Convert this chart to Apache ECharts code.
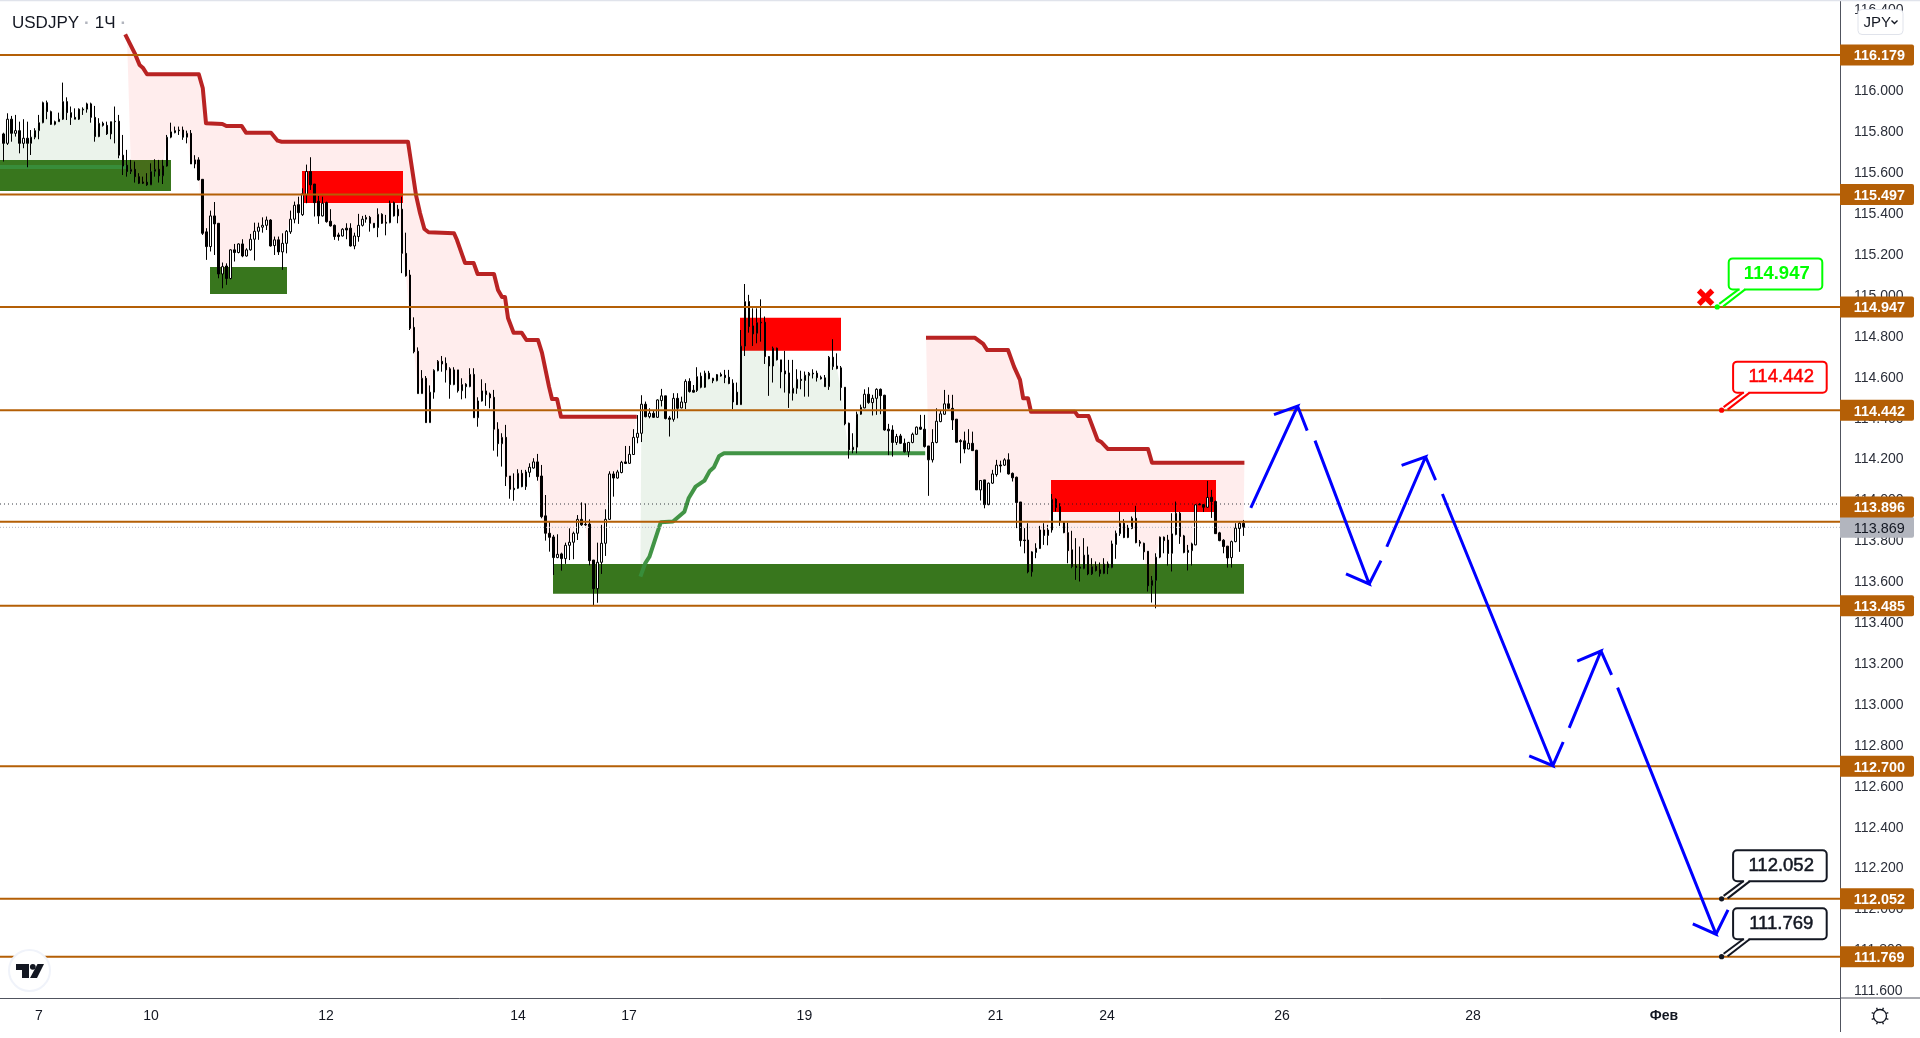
<!DOCTYPE html>
<html><head><meta charset="utf-8"><style>html,body{margin:0;padding:0;background:#fff}#c{width:1920px;height:1038px}</style>
<script src="https://cdn.jsdelivr.net/npm/echarts@6/dist/echarts.min.js"></script></head>
<body><div id="c"></div>
<script>
const opens=[115.793,115.747,115.865,115.796,115.809,115.747,115.772,115.747,115.777,115.809,
115.848,115.946,115.902,115.840,115.853,115.865,115.951,115.897,115.874,115.865,
115.910,115.914,115.940,115.874,115.780,115.845,115.835,115.793,115.855,115.855,
115.689,115.640,115.609,115.620,115.584,115.558,115.557,115.544,115.610,115.620,
115.588,115.636,115.777,115.799,115.812,115.812,115.777,115.796,115.646,115.666,
115.571,115.314,115.242,115.392,115.356,115.108,115.147,115.086,115.226,115.213,
115.255,115.196,115.226,115.278,115.317,115.337,115.346,115.372,115.247,115.275,
115.216,115.258,115.314,115.376,115.447,115.398,115.495,115.609,115.548,115.464,
115.392,115.457,115.366,115.346,115.299,115.294,115.332,115.332,115.245,115.291,
115.346,115.376,115.385,115.356,115.335,115.400,115.361,115.359,115.457,115.392,
115.425,115.209,115.103,114.847,114.730,114.523,114.598,114.381,114.530,114.635,
114.681,114.671,114.644,114.567,114.639,114.537,114.569,114.557,114.617,114.405,
114.487,114.536,114.521,114.505,114.349,114.278,114.309,114.120,114.060,114.060,
114.133,114.068,114.138,114.159,114.189,114.120,113.925,113.840,113.822,113.721,
113.739,113.716,113.781,113.796,113.840,113.908,113.884,113.885,113.709,113.569,
113.698,113.791,113.908,114.130,114.110,114.137,114.189,114.182,114.225,114.309,
114.329,114.471,114.410,114.427,114.407,114.489,114.512,114.404,114.397,114.500,
114.453,114.479,114.583,114.539,114.538,114.608,114.554,114.623,114.598,114.586,
114.617,114.613,114.603,114.574,114.530,114.469,114.755,114.973,114.854,114.818,
114.872,114.872,114.704,114.658,114.745,114.688,114.634,114.624,114.525,114.549,
114.593,114.587,114.611,114.623,114.623,114.603,114.600,114.557,114.701,114.658,
114.649,114.554,114.378,114.248,114.261,114.422,114.453,114.520,114.479,114.500,
114.544,114.515,114.349,114.345,114.284,114.316,114.280,114.238,114.284,114.324,
114.359,114.349,114.267,114.199,114.284,114.386,114.422,114.473,114.451,114.398,
114.293,114.292,114.252,114.280,114.246,114.052,114.101,113.980,114.085,114.127,
114.174,114.173,114.199,114.133,114.114,113.993,113.807,113.807,113.651,113.746,
113.765,113.856,113.829,113.856,114.006,113.970,113.892,113.843,113.759,113.680,
113.675,113.667,113.734,113.641,113.679,113.661,113.643,113.690,113.672,113.785,
113.838,113.889,113.819,113.863,113.913,113.798,113.791,113.752,113.584,113.609,
113.723,113.821,113.807,113.742,113.834,113.938,113.827,113.746,113.755,113.783,
113.982,113.980,113.967,114.016,113.995,113.842,113.806,113.777,113.721,113.799,
113.863,113.889];
const closes=[115.747,115.865,115.796,115.809,115.747,115.772,115.747,115.777,115.809,115.848,
115.946,115.902,115.840,115.853,115.865,115.951,115.897,115.874,115.865,115.914,
115.914,115.940,115.874,115.780,115.845,115.835,115.793,115.853,115.853,115.689,
115.636,115.609,115.620,115.584,115.552,115.552,115.544,115.609,115.620,115.588,
115.636,115.777,115.803,115.809,115.809,115.777,115.796,115.646,115.666,115.568,
115.307,115.242,115.392,115.353,115.108,115.144,115.086,115.226,115.213,115.255,
115.196,115.226,115.278,115.317,115.337,115.346,115.372,115.245,115.275,115.216,
115.258,115.317,115.376,115.444,115.408,115.500,115.609,115.544,115.457,115.392,
115.454,115.364,115.343,115.291,115.291,115.327,115.323,115.245,115.294,115.346,
115.376,115.385,115.356,115.335,115.400,115.356,115.356,115.454,115.392,115.425,
115.209,115.099,114.842,114.728,114.523,114.598,114.381,114.530,114.637,114.681,
114.668,114.639,114.567,114.639,114.537,114.567,114.557,114.617,114.405,114.487,
114.536,114.518,114.502,114.349,114.278,114.309,114.117,114.055,114.053,114.133,
114.068,114.140,114.163,114.189,114.117,113.921,113.840,113.820,113.721,113.737,
113.716,113.781,113.796,113.840,113.908,113.881,113.881,113.706,113.569,113.698,
113.791,113.908,114.130,114.110,114.140,114.187,114.181,114.226,114.309,114.329,
114.471,114.410,114.427,114.407,114.492,114.512,114.401,114.397,114.500,114.451,
114.482,114.583,114.533,114.530,114.606,114.554,114.623,114.596,114.586,114.616,
114.609,114.601,114.572,114.482,114.469,114.755,114.973,114.851,114.815,114.870,
114.869,114.704,114.658,114.745,114.688,114.629,114.619,114.525,114.549,114.593,
114.587,114.613,114.623,114.619,114.601,114.595,114.557,114.701,114.655,114.645,
114.553,114.375,114.248,114.261,114.422,114.456,114.520,114.479,114.500,114.544,
114.513,114.345,114.341,114.284,114.313,114.280,114.238,114.284,114.324,114.359,
114.349,114.264,114.199,114.284,114.388,114.424,114.473,114.451,114.394,114.285,
114.288,114.252,114.280,114.244,114.052,114.098,113.980,114.085,114.130,114.173,
114.169,114.199,114.130,114.111,113.990,113.804,113.804,113.651,113.749,113.767,
113.856,113.829,113.856,114.006,113.966,113.897,113.843,113.755,113.677,113.672,
113.669,113.733,113.641,113.677,113.658,113.643,113.689,113.672,113.788,113.840,
113.889,113.819,113.866,113.913,113.794,113.791,113.749,113.583,113.610,113.723,
113.821,113.804,113.741,113.837,113.938,113.824,113.746,113.757,113.788,113.979,
113.979,113.967,114.015,113.995,113.838,113.804,113.775,113.719,113.799,113.865,
113.889,113.869];
const highs=[115.799,115.894,115.881,115.886,115.853,115.865,115.853,115.812,115.821,115.886,
115.951,115.956,115.907,115.858,115.897,116.044,115.972,115.927,115.918,115.918,
115.923,115.946,115.946,115.930,115.870,115.853,115.853,115.853,115.927,115.886,
115.788,115.715,115.666,115.658,115.601,115.584,115.601,115.649,115.669,115.666,
115.666,115.788,115.848,115.829,115.829,115.829,115.809,115.812,115.689,115.679,
115.571,115.332,115.418,115.460,115.356,115.164,115.160,115.229,115.255,115.258,
115.278,115.234,115.304,115.359,115.359,115.385,115.389,115.376,115.291,115.291,
115.307,115.323,115.418,115.462,115.486,115.527,115.643,115.679,115.548,115.490,
115.486,115.462,115.425,115.350,115.310,115.332,115.356,115.356,115.310,115.402,
115.392,115.397,115.392,115.356,115.429,115.405,115.397,115.467,115.462,115.446,
115.486,115.310,115.128,114.896,114.749,114.638,114.609,114.563,114.642,114.687,
114.707,114.700,114.652,114.652,114.639,114.598,114.574,114.647,114.647,114.505,
114.593,114.574,114.528,114.541,114.383,114.329,114.370,114.120,114.133,114.153,
114.150,114.150,114.182,114.207,114.228,114.174,114.027,113.897,113.832,113.835,
113.745,113.794,113.864,113.848,113.929,113.991,113.986,113.908,113.709,113.794,
113.881,113.957,114.143,114.143,114.150,114.194,114.267,114.267,114.349,114.418,
114.515,114.484,114.451,114.440,114.495,114.546,114.512,114.414,114.525,114.525,
114.508,114.593,114.598,114.565,114.652,114.626,114.635,114.634,114.600,114.619,
114.626,114.639,114.639,114.593,114.577,114.834,115.059,115.006,114.940,114.940,
114.984,114.900,114.707,114.753,114.748,114.688,114.732,114.688,114.688,114.642,
114.635,114.631,114.629,114.642,114.635,114.611,114.614,114.707,114.789,114.720,
114.658,114.554,114.381,114.329,114.435,114.469,114.544,114.554,114.517,114.549,
114.548,114.517,114.375,114.368,114.326,114.326,114.303,114.287,114.332,114.362,
114.419,114.419,114.267,114.349,114.451,114.440,114.541,114.517,114.517,114.398,
114.300,114.337,114.349,114.337,114.248,114.098,114.101,114.088,114.150,114.199,
114.195,114.207,114.231,114.137,114.117,113.993,113.865,113.889,113.752,113.791,
113.876,113.889,113.881,114.032,114.011,113.987,113.897,113.892,113.852,113.816,
113.775,113.816,113.775,113.718,113.702,113.697,113.718,113.702,113.804,113.853,
113.946,113.909,113.881,113.922,113.974,113.807,113.794,113.752,113.631,113.742,
113.824,113.824,113.832,113.938,113.995,113.944,113.832,113.783,113.794,113.982,
113.987,113.983,114.096,114.052,114.000,113.847,113.811,113.778,113.804,113.889,
113.897,113.905];
const lows=[115.658,115.739,115.755,115.780,115.698,115.723,115.630,115.690,115.767,115.767,
115.845,115.865,115.837,115.835,115.853,115.861,115.861,115.837,115.865,115.861,
115.886,115.897,115.848,115.755,115.777,115.829,115.788,115.767,115.747,115.674,
115.592,115.584,115.597,115.555,115.548,115.548,115.539,115.544,115.584,115.555,
115.548,115.633,115.772,115.796,115.788,115.764,115.747,115.646,115.625,115.565,
115.299,115.177,115.218,115.201,115.087,115.038,115.055,115.082,115.169,115.209,
115.190,115.193,115.222,115.174,115.275,115.310,115.323,115.242,115.201,115.201,
115.128,115.209,115.304,115.356,115.353,115.392,115.454,115.519,115.389,115.353,
115.389,115.359,115.340,115.275,115.271,115.291,115.278,115.242,115.229,115.266,
115.340,115.359,115.315,115.332,115.288,115.353,115.297,115.356,115.389,115.356,
115.112,115.095,114.834,114.720,114.523,114.523,114.381,114.381,114.498,114.632,
114.630,114.577,114.498,114.564,114.528,114.495,114.500,114.554,114.405,114.361,
114.484,114.463,114.451,114.244,114.215,114.166,114.071,114.009,113.999,114.057,
114.065,114.052,114.114,114.156,114.097,113.913,113.804,113.750,113.636,113.718,
113.657,113.690,113.709,113.713,113.807,113.876,113.876,113.683,113.489,113.500,
113.641,113.729,113.905,114.019,114.107,114.133,114.179,114.179,114.223,114.280,
114.286,114.407,114.402,114.404,114.404,114.460,114.397,114.313,114.386,114.402,
114.451,114.447,114.528,114.528,114.531,114.549,114.551,114.593,114.574,114.583,
114.606,114.574,114.569,114.447,114.468,114.468,114.707,114.821,114.756,114.769,
114.777,114.668,114.512,114.577,114.685,114.549,114.528,114.453,114.489,114.522,
114.544,114.508,114.508,114.597,114.582,114.592,114.557,114.541,114.639,114.642,
114.489,114.368,114.205,114.231,114.231,114.419,114.451,114.473,114.416,114.419,
114.422,114.342,114.222,114.215,114.272,114.277,114.235,114.212,114.280,114.321,
114.345,114.259,114.023,114.186,114.280,114.383,114.420,114.446,114.345,114.283,
114.182,114.231,114.251,114.244,114.052,114.000,113.962,113.977,114.081,114.117,
114.137,114.169,114.127,114.093,113.865,113.775,113.742,113.644,113.628,113.718,
113.763,113.783,113.781,113.843,113.946,113.876,113.840,113.693,113.669,113.612,
113.604,113.664,113.635,113.636,113.653,113.628,113.640,113.640,113.669,113.715,
113.827,113.816,113.816,113.860,113.791,113.775,113.710,113.555,113.501,113.473,
113.718,113.742,113.682,113.653,113.830,113.788,113.742,113.658,113.682,113.781,
113.979,113.944,113.964,113.915,113.837,113.801,113.742,113.672,113.672,113.796,
113.749,113.827];

const redStop1=[[31.3,116.280],[33.7,116.187],[34.9,116.130],[35.7,116.117],[36.75,116.085],[49.7,116.085],[50.7,116.016],[51.5,115.845],[55.6,115.842],[56.6,115.832],[60.4,115.832],[61.5,115.799],[67.75,115.799],[69.4,115.760],[70.4,115.755],[102,115.755],[102.5,115.749],[104,115.494],[105,115.406],[106.1,115.328],[107.15,115.312],[113.5,115.307],[114.25,115.274],[116.25,115.162],[118.4,115.162],[119.4,115.108],[123.5,115.108],[124.5,115.030],[125.5,114.995],[126.25,114.995],[127,114.893],[128.4,114.821],[130.4,114.821],[131.6,114.785],[134.5,114.785],[135.5,114.722],[137.25,114.557],[138,114.497],[139.25,114.497],[140.25,114.410],[159.2,114.410]];
const redStop2=[[231.5,114.796],[243.75,114.796],[245.8,114.766],[246.8,114.736],[252,114.736],[253.5,114.655],[255,114.590],[255.8,114.500],[257,114.500],[257.75,114.434],[268.75,114.434],[269.5,114.413],[272.15,114.413],[274.4,114.296],[275.4,114.285],[277,114.252],[287,114.252],[288,114.185],[311.1,114.185]];
const greenStop1=[[0,115.631],[31.5,115.631]];
const greenStop2=[[160.1,113.628],[161.3,113.693],[162.35,113.725],[165.2,113.894],[168.25,113.897],[171.1,113.945],[172.15,114.011],[173.9,114.068],[176.1,114.097],[177.45,114.145],[178.5,114.163],[179.8,114.218],[181,114.231],[231.3,114.231]];

const greenZones=[[0,42.75,115.665,115.514],[52.5,71.75,115.142,115.010],[138.25,311,113.690,113.544]];
const redZones=[[75.5,100.75,115.612,115.455],[185,210.25,114.894,114.733],[262.75,304,114.100,113.944]];

const levelValues=[116.179,115.497,114.947,114.442,113.896,113.485,112.700,112.052,111.769];
const levelTagAt=[116.179,115.497,114.947,114.442,113.968,113.485,112.700,112.052,111.769];
const lastPrice=113.869;
const prePrice=113.983;

const arrowStart=[[312.7,113.964],[328.75,114.293],[346.7,113.774],[360.6,114.032],[392.3,112.888],[404.4,113.085]];
const arrowTip=[[324.4,114.462],[342.3,113.592],[356.4,114.214],[388.2,112.703],[400.25,113.264],[429,111.879]];
const arrowWingA=[[318.5,114.420],[336.5,113.641],[350.4,114.172],[382.3,112.751],[394.3,113.215],[423.2,111.929]];
const arrowWingB=[[326.8,114.342],[345.25,113.706],[358.9,114.100],[390.8,112.819],[402.9,113.147],[432,111.998]];

const calloutBars=[429.3,430.4,430.4,430.4];
const calloutPrices=[114.947,114.442,112.052,111.769];
const calloutColors=['#00FF00','#FF0000','#131722','#131722'];
const stopMark=[426.4,114.994];

const yTicks=[111.6,111.8,112,112.2,112.4,112.6,112.8,113,113.2,113.4,113.6,113.8,114,114.2,114.4,114.6,114.8,115,115.2,115.4,115.6,115.8,116,116.2,116.4];
const xTickLabels=['7','10','12','14','17','19','21','24','26','28','Фев'];
const xTickBars=[9.75,37.75,81.5,129.5,157.25,201.1,248.9,276.75,320.5,368.25,416];

const FONT='"Liberation Sans",Arial,sans-serif';
const ORANGE='#B45F06', AXIS='#50535E', TXT='#131722';
const barX=k=>0.833+0.997*k;
const candles=opens.map((o,k)=>[barX(k),o,closes[k],lows[k],highs[k]]);
const closePts=closes.map((c,k)=>[barX(k),c]);
const between=(a,b)=>closePts.filter(p=>p[0]>=a&&p[0]<=b).reverse();
const PINK='rgba(255,0,0,0.07)', PALE='rgba(56,142,60,0.1)';
const fills=[
 {c:PALE,p:greenStop1.concat(between(0,31.5),[[0,closes[0]]])},
 {c:PINK,p:[[31.75,116.26]].concat(redStop1.slice(1),between(31.75,159.2))},
 {c:PALE,p:greenStop2.concat(between(160.25,231.3))},
 {c:PINK,p:redStop2.concat(between(231.5,311.1))}
];
const zones=greenZones.map(z=>z.concat('#38761D')).concat(redZones.map(z=>z.concat('#FF0000')));
const line=(name,data,style,z)=>({name,type:'line',data,symbol:'none',showSymbol:false,silent:true,z,lineStyle:style,animation:false,clip:false});

const series=[];
series.push({type:'custom',name:'zones',z:1,silent:true,data:zones.map(z=>[z[0],z[2]]),renderItem(p,api){
  const z=zones[p.dataIndex],a=api.coord([z[0],z[2]]),b=api.coord([z[1],z[3]]);
  return {type:'rect',shape:{x:a[0],y:a[1],width:b[0]-a[0],height:b[1]-a[1]},style:{fill:z[4]}};
}});
series.push({type:'custom',name:'fills',z:2,silent:true,data:fills.map(f=>f.p[0]),renderItem(p,api){
  const f=fills[p.dataIndex];
  return {type:'polygon',shape:{points:f.p.map(q=>api.coord(q))},style:{fill:f.c}};
}});
series.push(line('redStop1',redStop1,{color:'#B71C1C',width:4,join:'round',opacity:.97},3));
series.push(line('redStop2',redStop2,{color:'#B71C1C',width:4,join:'round',opacity:.97},3));
series.push(line('greenStop1',greenStop1,{color:'#388E3C',width:4,opacity:.95},2.5));
series.push(line('greenStop2',greenStop2,{color:'#388E3C',width:4,join:'round',opacity:.95},3));
series.push({type:'candlestick',name:'USDJPY',z:3.5,silent:true,barWidth:2,data:candles,itemStyle:{color:'#FFFFFF',color0:'#000000',borderColor:'#000000',borderColor0:'#000000',borderWidth:1}});
series.push(line('pre',[[0,prePrice],[460,prePrice]],{color:'#131722',width:1,type:[1,3],opacity:.85},3.8));
series.push(line('last',[[0,lastPrice],[460,lastPrice]],{color:'#B2B5BE',width:1,type:[1,2]},3.8));
levelValues.forEach((v,i)=>series.push(line('level'+i,[[0,v],[460,v]],{color:ORANGE,width:2},4)));
arrowTip.forEach((t,i)=>series.push(line('arrow'+i,[arrowStart[i],t,arrowWingA[i],t,arrowWingB[i]],{color:'#0000FF',width:3,join:'miter'},5)));

series.push({type:'custom',name:'stop',z:6,silent:true,data:[stopMark],renderItem(p,api){
  const c=api.coord(stopMark),r=6.8,st={stroke:'#FF0000',lineWidth:5.4};
  return {type:'group',children:[
    {type:'line',shape:{x1:c[0]-r,y1:c[1]-r,x2:c[0]+r,y2:c[1]+r},style:st},
    {type:'line',shape:{x1:c[0]-r,y1:c[1]+r,x2:c[0]+r,y2:c[1]-r},style:st}]};
}});
series.push({type:'custom',name:'callouts',z:6,silent:true,data:calloutBars.map((b,i)=>[b,calloutPrices[i]]),renderItem(p,api){
  const i=p.dataIndex,a=api.coord([calloutBars[i],calloutPrices[i]]),x=a[0],y=a[1],c=calloutColors[i];
  const st={stroke:c,lineWidth:2,fill:null};
  const ts={x:x+59.6,y:y-33.2,text:calloutPrices[i].toFixed(3),align:'center',verticalAlign:'middle',font:(i===0?'bold ':'')+'18.5px '+FONT,fill:c};
  if(i>0){ts.stroke=c;ts.lineWidth=0.5;}
  return {type:'group',children:[
    {type:'rect',shape:{x:x+11.5,y:y-48.5,width:93.6,height:31,r:4},style:{fill:'#fff',stroke:c,lineWidth:2}},
    {type:'line',shape:{x1:x+22.5,y1:y-17.5,x2:x+27,y2:y-17.5},style:{stroke:'#fff',lineWidth:3}},
    {type:'line',shape:{x1:x+2,y1:y-3,x2:x+21.5,y2:y-17.5},style:st},
    {type:'line',shape:{x1:x+6,y1:y-0.5,x2:x+28,y2:y-17.5},style:st},
    {type:'circle',shape:{cx:x,cy:y,r:2.6},style:{fill:c}},
    {type:'text',style:ts}
  ]};
}});
const tags=[{v:lastPrice,at:lastPrice,bg:'#B2B5BE',fg:TXT,w:'normal'}].concat(levelValues.map((v,i)=>({v,at:levelTagAt[i],bg:ORANGE,fg:'#fff',w:'bold'})));
series.push({type:'custom',name:'tags',z:7,silent:true,data:tags.map(t=>[460,t.at]),renderItem(p,api){
  const t=tags[p.dataIndex],a=api.coord([460,t.at]);
  return {type:'group',children:[
    {type:'rect',shape:{x:a[0],y:a[1]-10.5,width:74,height:21,r:[0,2,2,0]},style:{fill:t.bg}},
    {type:'text',style:{x:a[0]+39.3,y:a[1]+1.4,text:t.v.toFixed(3),align:'center',verticalAlign:'middle',font:t.w+' 14.4px '+FONT,fill:t.fg}}
  ]};
}});

const gear=[];
for(let i=0;i<8;i++){const t=i*Math.PI/4+Math.PI/8;gear.push({type:'line',x:1880,y:1016,shape:{x1:6.5*Math.cos(t),y1:6.5*Math.sin(t),x2:9*Math.cos(t),y2:9*Math.sin(t)},style:{stroke:TXT,lineWidth:1.3}});}
const chrome=[
 {type:'rect',shape:{x:0,y:0,width:1920,height:1.2},style:{fill:'#E0E3EB'}},
 {type:'line',shape:{x1:1840,y1:998,x2:1920,y2:998},style:{stroke:AXIS,lineWidth:1}},
 {type:'line',shape:{x1:1840.5,y1:998,x2:1840.5,y2:1032},style:{stroke:AXIS,lineWidth:1}},
 {type:'rect',shape:{x:1858,y:9.5,width:45,height:25,r:4},style:{fill:'#fff',stroke:'#E0E3EB',lineWidth:1}},
 {type:'text',style:{x:1863.5,y:22.5,text:'JPY',font:'15px '+FONT,fill:TXT,verticalAlign:'middle'}},
 {type:'polyline',shape:{points:[[1891.5,20.5],[1894.5,23.5],[1897.5,20.5]]},style:{stroke:TXT,lineWidth:1.4,fill:null}},
 {type:'circle',shape:{cx:29.5,cy:970.5,r:20.5},style:{fill:'#fff',stroke:'#F0F3FA',lineWidth:2}},
 {type:'polygon',shape:{points:[[16,964],[29,964],[29,978],[22,978],[22,970],[16,970]]},style:{fill:TXT}},
 {type:'circle',shape:{cx:32.8,cy:966.8,r:2.9},style:{fill:TXT}},
 {type:'polygon',shape:{points:[[37.5,964],[44,964],[37,978],[30,978]]},style:{fill:TXT}},
 {type:'circle',shape:{cx:1880,cy:1016,r:6.5},style:{fill:'#fff',stroke:TXT,lineWidth:1.3}}
].concat(gear).map(e=>Object.assign({z:100},e));

const chart=echarts.init(document.getElementById('c'),null,{renderer:'canvas'});
chart.setOption({
 animation:false,backgroundColor:'#fff',
 title:{left:7,top:9,text:'{a|USDJPY} {d|·} {a|1Ч} {d|·}',textStyle:{rich:{a:{fontFamily:FONT,fontSize:17,fontWeight:'normal',color:TXT},d:{fontFamily:FONT,fontSize:17,color:'#B2B5BE'}}}},
 grid:{left:0,right:80,top:0,bottom:40,containLabel:false},
 xAxis:{type:'value',min:0,max:460,splitLine:{show:false},axisTick:{show:false},axisLine:{show:true,onZero:false,lineStyle:{color:AXIS,width:1}},
  axisLabel:{customValues:xTickBars,margin:11,fontFamily:FONT,fontSize:14,color:TXT,formatter:v=>{const s=xTickLabels[xTickBars.indexOf(v)];return s==='Фев'?'{b|'+s+'}':s;},rich:{b:{fontFamily:FONT,fontSize:14,fontWeight:'bold',color:TXT}}}},
 yAxis:{type:'value',position:'right',min:111.567,max:116.448,scale:true,splitLine:{show:false},axisTick:{show:false},axisLine:{show:true,onZero:false,lineStyle:{color:AXIS,width:1}},
  axisLabel:{customValues:yTicks,margin:14,padding:[2,0,0,0],fontFamily:FONT,fontSize:14,color:'#2A2E39',formatter:v=>v.toFixed(3)}},
 graphic:{elements:chrome},
 series
});
</script></body></html>
